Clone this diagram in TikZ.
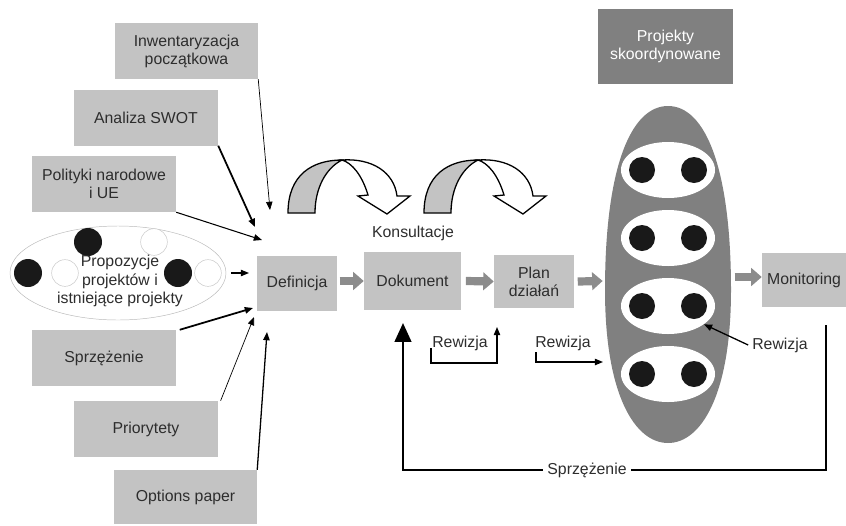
\documentclass[tikz,border=0pt]{standalone}
\usepackage{fontspec}
\setmainfont{Liberation Sans}
\usetikzlibrary{arrows.meta,shapes.geometric}

\definecolor{boxgray}{RGB}{195,195,195}
\definecolor{egggray}{RGB}{128,128,128}
\definecolor{arrgray}{RGB}{140,140,140}
\definecolor{txt}{RGB}{45,45,45}

\begin{document}
\begin{tikzpicture}[x=0.03cm, y=-0.03cm, >={Triangle[length=7pt,width=5.5pt]},
    font=\fontsize{13.5}{15.5}\selectfont, text=txt,
    box/.style={fill=boxgray, align=center, inner sep=0pt, minimum width=4.32cm, minimum height=1.68cm},
    blk/.style={arrgray, line width=7pt, -{Triangle[length=9pt,width=15pt]}},
    konsul/.pic={
        \draw[line width=1.1pt, fill=boxgray] (-54,53) .. controls (-54,15) and (-30,0) .. (0,0)
            .. controls (-16,8) and (-27,28) .. (-27,53) -- cycle;
        \draw[line width=1.1pt, fill=white] (0,0) .. controls (30,-2) and (52,12) .. (55,36)
            -- (68,36) -- (45,54) -- (16,36) -- (26,35) .. controls (20,15) and (10,3) .. (0,0) -- cycle;
    }]
    \useasboundingbox (0,0) rectangle (846,525);

    % inputs on the left
    \node[box, minimum width=4.29cm] (inw) at (186.5,51) {Inwentaryzacja\\początkowa};
    \node[box] (swot) at (146,117.5) {Analiza SWOT};
    \node[box] (pol) at (104,184) {Polityki narodowe\\i UE};
    \node[box] (sprz) at (104,358) {Sprzężenie};
    \node[box] (prio) at (146,429) {Priorytety};
    \node[box, minimum width=4.29cm, minimum height=1.62cm] (opt) at (185.5,497) {Options paper};

    % project proposals
    \node[ellipse, draw=gray!55, fill=white, minimum width=6.48cm, minimum height=2.82cm] (prop) at (118,273) {};
    \foreach \x/\y in {28/273, 88/242, 178/273}
        \fill[black!90] (\x,\y) circle (0.42cm);
    \foreach \x/\y in {65/273, 154/242, 208/273}
        \draw[gray!45, fill=white] (\x,\y) circle (0.4cm);
    \node[align=center] (propT) at (120,281) {Propozycje\\projektów i\\istniejące projekty};

    % main chain
    \node[box, minimum width=2.4cm, minimum height=1.65cm] (defin) at (297,283.5) {Definicja};
    \node[box, minimum width=2.91cm, minimum height=1.74cm] (dok) at (412.5,281) {Dokument};
    \node[box, minimum width=2.4cm, minimum height=1.59cm] (plan) at (534,281.5) {Plan\\działań};
    \node[box, minimum width=2.52cm, minimum height=1.62cm] (mon) at (804,280) {Monitoring};
    \node[box, fill=egggray, text=white, minimum width=4.05cm, minimum height=2.25cm] (proj) at (665.5,46.5) {Projekty\\skoordynowane};

    % coordinated projects
    \fill[egggray] (668,106) .. controls (630,106) and (605,170) .. (605,290)
        .. controls (605,395) and (635,443) .. (668,443)
        .. controls (701,443) and (731,395) .. (731,290)
        .. controls (731,170) and (706,106) .. (668,106) -- cycle;
    \coordinate (eggW) at (605,281);
    \coordinate (eggE) at (731,277);
    \foreach \y [count=\i] in {170,238,306,374} {
        \node[ellipse, fill=white, minimum width=2.82cm, minimum height=1.68cm] (p\i) at (668,\y) {};
        \fill[black!90] (642,\y) circle (0.39cm) (694,\y) circle (0.39cm);
    }

    % consultations
    \pic at (342,160) {konsul};
    \pic at (478,160) {konsul};
    \node (kons) at (413,233) {Konsultacje};

    % arrows into Definicja
    \coordinate (t1) at (270,210);
    \coordinate (t2) at (255,227);
    \coordinate (t3) at (262,240);
    \coordinate (t0) at (249,273);
    \coordinate (t4) at (253,308);
    \coordinate (t5) at (254,317);
    \coordinate (t6) at (267,332);
    \draw[->, line width=0.6pt] (inw.south east) -- (t1);
    \draw[->, line width=1.5pt] (swot.south east) -- (t2);
    \draw[->, line width=0.9pt] (pol.south east) -- (t3);
    \draw[->, line width=0.9pt] ([xshift=4pt]prop.east) -- (t0);
    \draw[->, line width=1.5pt] ([xshift=3pt]sprz.north east) -- (t4);
    \draw[->, line width=0.6pt] ([xshift=2pt]prio.north east) -- (t5);
    \draw[->, line width=1.1pt] (opt.north east) -- (t6);

    % gray block arrows
    \draw[blk] ([xshift=2pt]defin.east |- dok.east) -- (dok.west);
    \draw[blk] ([xshift=4pt]dok.east) -- (plan.west);
    \draw[blk] ([xshift=3pt]plan.east) -- ([xshift=-2pt]eggW);
    \draw[blk] ([xshift=3pt]eggE) -- (mon.west |- eggE);

    % revisions
    \node (rew1) at (460,343) {Rewizja};
    \node (rew2) at (563,343) {Rewizja};
    \node (rew3) at (780,345) {Rewizja};
    \coordinate (r1s) at (431,348);
    \coordinate (r1e) at (497,327);
    \coordinate (r2s) at (536,352);
    \coordinate (r2e) at (603,362);
    \draw[->, line width=1pt] (r1s) -- ++(0,15) -| (r1e);
    \draw[->, line width=1pt] (r2s) -- ++(0,10) -- (r2e);
    \draw[->, line width=1.1pt] (rew3.west) -- (p3.-27);

    % feedback
    \coordinate (fbS) at (826,325);
    \coordinate (fbE) at (403,323);
    \draw[line width=2.2pt, -{Triangle[length=16pt,width=14pt]}] (fbS) -- (826,470) -| (fbE);
    \node[fill=white, inner sep=4pt] (fbL) at (587,470) {Sprzężenie};
\end{tikzpicture}
\end{document}
